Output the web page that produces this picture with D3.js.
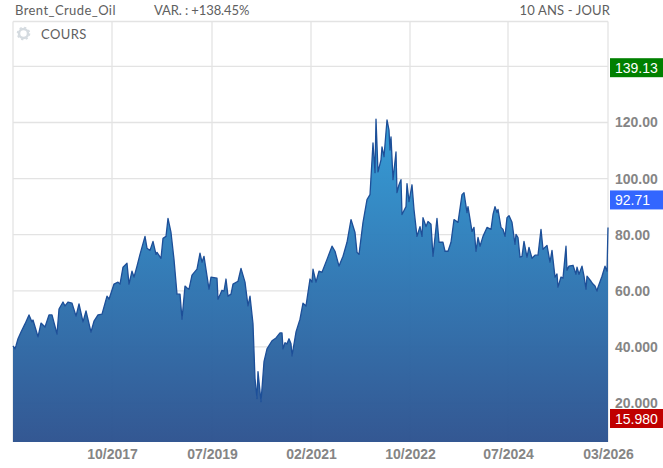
<!DOCTYPE html>
<html><head><meta charset="utf-8">
<script src="https://cdn.jsdelivr.net/npm/d3@7"></script>
<style>html,body{margin:0;padding:0;background:#fff}svg{display:block}</style>
</head><body><div id="chart"></div>
<script>
const steps=[0,2,3,5,8,12,16,19,20,25,28,32,36,39,44,46,50,52,55,59,63,66,70,73,78,81,85,89,94,96,101,105,107,110,114,116,119,121,124,127,132,134,137,140,143,144,148,150,153,155,158,161,164,167,169,172,174,176,179,184,187,189,191,196,198,204,205,209,211,213,215,218,220,225,228,232,235,237,240,242,244,245,248,251,254,259,263,267,269,270,272,274,276,278,279,283,287,290,293,297,299,300,303,306,309,314,319,322,326,
330,334,338,342,344,346,350,354,357,360,362,363,365,368,369,371,374,376,377,378,380,383,384,386,388,389,393,394,396,399,401,404,407,409,410,413,415,418,420,424,426,430,432,435,438,441,445,449,451,454,455,459,461,
463,465,467,470,474,478,480,482,484,485,488,490,492,494,496,499,502,503,505,507,509,511,514,516,519,522,525,528,530,534,537,539,542,544,545,548,550,553,554,556,560,563,564,566,569,571,573,574,578,580,582,584,585,589,592,594,595];
const prices=[40.4,39.3,40.4,42.9,45.3,48.2,51.4,48.9,49.6,43.6,48.5,47.1,51.4,51.4,44.6,53.5,56.0,54.6,56.0,55.6,51.0,55.3,48.9,52.8,45.3,49.2,51.4,51.7,58.1,57.0,62.4,63.1,62.4,68.4,69.8,62.4,67.0,64.9,68.8,73.0,79.4,75.2,74.4,77.6,73.0,73.7,71.6,78.7,79.4,85.8,80.8,71.2,58.8,58.8,49.9,61.7,61.0,60.6,65.6,67.7,73.4,70.2,72.3,60.6,64.9,64.5,57.0,60.2,59.9,64.2,58.1,58.8,62.4,63.4,68.0,63.1,54.6,58.1,48.2,28.7,21.6,31.2,20.5,34.7,39.3,42.2,43.2,45.0,45.0,39.3,41.5,41.1,42.9,41.1,36.8,45.3,49.9,55.6,54.6,64.2,63.1,67.7,63.1,67.0,66.6,71.2,75.9,74.1,68.8,
72.3,77.3,85.4,80.8,73.7,73.0,84.4,92.5,94.3,112.7,102.1,121.2,102.4,106.7,111.3,107.8,120.9,117.3,110.2,114.9,99.6,109.5,95.0,97.8,99.6,87.2,90.0,98.2,91.8,97.8,89.0,79.4,82.9,79.4,86.1,82.9,84.7,83.7,72.3,85.8,77.3,77.3,74.1,74.1,77.3,85.4,84.4,94.3,95.0,87.9,90.0,81.2,82.6,
74.1,79.0,75.9,79.4,82.6,81.9,87.2,90.0,87.9,89.0,82.6,81.9,79.4,86.1,86.8,84.4,76.6,80.1,79.0,72.0,72.3,77.6,72.0,75.5,71.6,72.7,72.7,81.9,74.8,76.2,70.2,74.4,64.9,66.0,61.3,64.9,64.5,75.9,67.3,68.8,69.1,65.9,68.4,65.9,68.8,65.2,60.6,65.2,63.4,62.4,61.7,59.9,61.3,65.2,68.8,67.0,82.6];
const xTickSteps=[99,199,298,397,495,595];
const xTickLabels=["10/2017","07/2019","02/2021","10/2022","07/2024","03/2026"];
const yTicks=[140,120,100,80,60,40,20];
const yTickLabels=["140.00","120.00","100.00","80.00","60.00","40.000","20.000"];
const badgeValues=[139.13,92.71,15.98];
const badgeLabels=["139.13","92.71","15.980"];
const badgeColors=["#008000","#3366ff","#c00000"];
const title="Brent_Crude_Oil", variation="VAR. : +138.45%", period="10 ANS - JOUR", series="COURS";

const W=663,H=468,L=13,R=608,T=21.5,B=442;
const svg=d3.select("#chart").append("svg").attr("width",W).attr("height",H);
const x=d3.scaleLinear().domain([0,595]).range([L,R]);
const y=d3.scaleLinear().domain([120,20]).range([122.5,403]);
const yBadge=d3.scaleLinear().domain([139.13,15.98]).range([67.7,418.5]);
const grid="#e3e3e3";
const gr=svg.append("g").attr("stroke",grid).attr("stroke-width",1.3).attr("fill","none");
gr.selectAll("line.h").data(yTicks).join("line").attr("class","h").attr("x1",L).attr("x2",R).attr("y1",d=>y(d)).attr("y2",d=>y(d));
gr.selectAll("line.v").data(xTickSteps.concat([0])).join("line").attr("class","v").attr("x1",d=>x(d)).attr("x2",d=>x(d)).attr("y1",T).attr("y2",B);
gr.append("line").attr("x1",L).attr("x2",R).attr("y1",T).attr("y2",T);

const defs=svg.append("defs");
const lg=defs.append("linearGradient").attr("id","g").attr("gradientUnits","userSpaceOnUse").attr("x1",0).attr("x2",0).attr("y1",118).attr("y2",B);
lg.append("stop").attr("offset",0).attr("stop-color","#2f9ad6");
lg.append("stop").attr("offset",1).attr("stop-color","#2d528f");
const pts=steps.map((s,i)=>[s,prices[i]]);
const area=d3.area().x(d=>x(d[0])).y0(B).y1(d=>y(d[1]));
const line=d3.line().x(d=>x(d[0])).y(d=>y(d[1]));
svg.append("path").datum(pts).attr("d",area).attr("fill","url(#g)").attr("fill-opacity",0.97);
svg.append("path").datum(pts).attr("d",line).attr("fill","none").attr("stroke","#1d4f98").attr("stroke-width",1.3).attr("stroke-linejoin","round");

const ax=svg.append("g").attr("transform",`translate(${R},0)`).call(d3.axisRight(y).tickValues(yTicks).tickSize(0).tickPadding(7).tickFormat((d,i)=>yTickLabels[i]));
ax.select(".domain").remove();
ax.selectAll("text").attr("font-family","Liberation Sans").attr("font-size",14).attr("font-weight",700).attr("fill","#858585");
const ax2=svg.append("g").attr("transform",`translate(0,${B})`).call(d3.axisBottom(x).tickValues(xTickSteps).tickSize(0).tickPadding(6).tickFormat((d,i)=>xTickLabels[i]));
ax2.select(".domain").remove();
ax2.selectAll("text").attr("font-family","Liberation Sans").attr("font-size",14).attr("font-weight",700).attr("fill","#858585").attr("dy","0.8em");

const b=svg.selectAll("g.b").data(badgeValues).join("g").attr("class","b").attr("transform",d=>`translate(610,${yBadge(d)})`);
b.append("rect").attr("x",0).attr("y",-9.5).attr("width",53).attr("height",19).attr("fill",(d,i)=>badgeColors[i]);
b.append("text").attr("x",5).attr("y",5).attr("font-family","Liberation Sans").attr("font-size",14).attr("fill","#fff").text((d,i)=>badgeLabels[i]);

const head=svg.append("g").attr("font-family","Lato").attr("font-size",13).attr("fill","#606060");
head.append("text").attr("x",15).attr("y",15).attr("letter-spacing",0.42).text(title);
head.append("text").attr("x",154).attr("y",15).attr("letter-spacing",-0.1).text(variation);
head.append("text").attr("x",610).attr("y",15).attr("text-anchor","end").attr("letter-spacing",0.15).text(period);
head.append("text").attr("x",41).attr("y",39).attr("letter-spacing",0.4).text(series);
svg.append("circle").attr("cx",23.5).attr("cy",33.5).attr("r",4.5).attr("fill","none").attr("stroke","#d5dbe0").attr("stroke-width",2.5);
svg.append("circle").attr("cx",23.5).attr("cy",33.5).attr("r",6).attr("fill","none").attr("stroke","#d5dbe0").attr("stroke-width",1.6).attr("stroke-dasharray","2.2 2.5");
</script></body></html>
